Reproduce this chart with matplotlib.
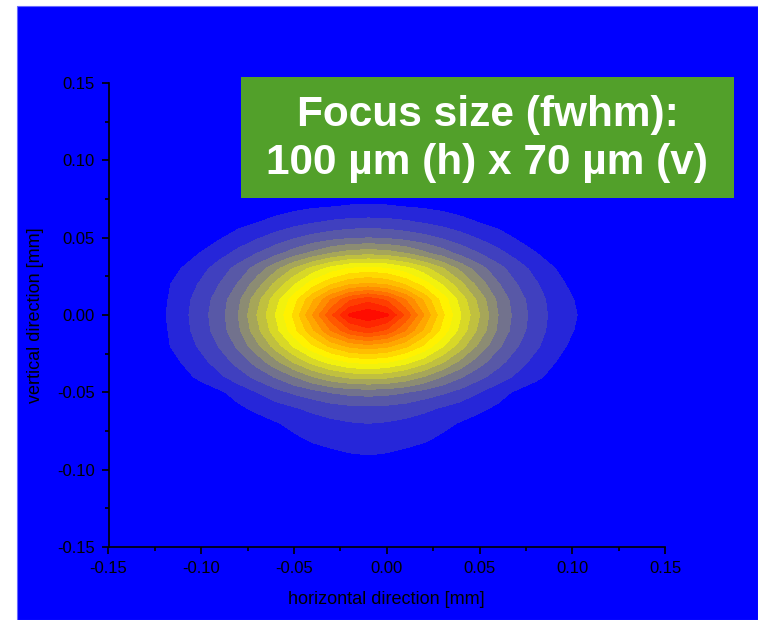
import numpy as np
import matplotlib
matplotlib.use("Agg")
import matplotlib.pyplot as plt
from matplotlib.colors import LinearSegmentedColormap
from matplotlib.patches import Rectangle
from matplotlib.ticker import MultipleLocator, FormatStrFormatter

plt.rcParams["font.family"] = ["Liberation Sans", "DejaVu Sans"]
plt.rcParams["axes.unicode_minus"] = False

# measurement grid [mm]
x_mm = np.round(np.arange(-0.13, 0.125, 0.01), 2)   # 26 columns
y_mm = np.round(np.arange(0.09, -0.115, -0.01), 2)  # 21 rows, top to bottom

# relative intensity [%], rows follow y_mm, columns follow x_mm
intensity = [
    [0] * 26,
    [0, 0, 0, 0, 0, 0, 0.2, 0.6, 1.0, 1.4, 1.7, 1.8, 1.9, 1.8, 1.7, 1.4, 1.0, 0.6, 0.2, 0, 0, 0, 0, 0, 0, 0],
    [0, 0, 0, 0, 0.5, 1.1, 1.9, 2.6, 3.6, 4.4, 4.9, 5.4, 5.5, 5.4, 4.9, 4.4, 3.6, 2.6, 1.9, 1.1, 0.5, 0, 0, 0, 0, 0],
    [0, 0, 0.3, 1.1, 2.3, 3.4, 4.8, 6.5, 8.1, 9.5, 10.7, 11.4, 11.7, 11.4, 10.7, 9.5, 8.1, 6.5, 4.8, 3.4, 2.3, 1.1, 0.3, 0, 0, 0],
    [0, 0.5, 1.5, 2.8, 4.5, 7.0, 9.4, 11.9, 14.4, 16.5, 18.0, 19.3, 19.8, 19.3, 18.0, 16.5, 14.4, 11.9, 9.4, 7.0, 4.5, 2.8, 1.5, 0.5, 0, 0],
    [0.5, 1.6, 3.1, 5.2, 8.1, 11.4, 14.9, 18.3, 22.3, 26.1, 29.9, 32.2, 33.0, 32.2, 29.9, 26.1, 22.3, 18.3, 14.9, 11.4, 8.1, 5.2, 3.1, 1.6, 0.5, 0],
    [1.3, 2.9, 5.2, 8.4, 12.4, 16.7, 22.0, 28.4, 35.5, 41.7, 46.9, 50.4, 51.6, 50.4, 46.9, 41.7, 35.5, 28.4, 22.0, 16.7, 12.4, 8.4, 5.2, 2.9, 1.3, 0.3],
    [1.9, 3.9, 6.9, 10.7, 15.1, 20.4, 27.5, 36.2, 44.4, 52.6, 59.4, 64.1, 65.9, 64.1, 59.4, 52.6, 44.4, 36.2, 27.5, 20.4, 15.1, 10.7, 6.9, 3.9, 1.9, 0.6],
    [2.0, 4.2, 8.1, 12.4, 17.3, 23.8, 33.0, 42.7, 52.8, 64.0, 75.0, 84.0, 88.0, 84.0, 75.0, 64.0, 52.8, 42.7, 33.0, 23.8, 17.3, 12.4, 8.1, 5.2, 2.6, 0.9],
    [2.2, 4.6, 8.5, 13.0, 18.0, 25.0, 35.0, 45.0, 56.0, 70.0, 84.0, 96.0, 99.0, 96.0, 84.0, 70.0, 56.0, 45.0, 35.0, 25.0, 18.0, 13.0, 8.5, 5.8, 2.8, 1.0],
    [2.0, 4.2, 8.1, 12.5, 17.4, 24.0, 33.3, 43.0, 53.2, 64.0, 75.0, 84.0, 88.0, 84.0, 75.0, 64.0, 53.2, 43.0, 33.3, 24.0, 17.4, 12.5, 8.1, 5.2, 2.6, 0.9],
    [2.0, 4.0, 7.1, 11.0, 15.4, 21.0, 28.4, 37.2, 45.7, 54.1, 61.3, 66.2, 68.1, 66.2, 61.3, 54.1, 45.7, 37.2, 28.4, 21.0, 15.4, 11.0, 7.1, 4.0, 2.0, 0.7],
    [1.3, 2.9, 5.3, 8.5, 12.5, 16.8, 22.1, 28.7, 35.9, 42.2, 47.3, 50.9, 52.2, 50.9, 47.3, 42.2, 35.9, 28.7, 22.1, 16.8, 12.5, 8.5, 5.3, 2.9, 1.3, 0.3],
    [0.7, 1.8, 3.6, 6.0, 9.0, 12.6, 16.3, 20.4, 24.7, 29.7, 33.6, 36.1, 37.0, 36.1, 33.6, 29.7, 24.7, 20.4, 16.3, 12.6, 9.0, 6.0, 3.6, 1.8, 0.7, 0],
    [0, 0.5, 1.4, 2.7, 4.2, 6.8, 10.0, 13.2, 15.8, 17.9, 20.2, 21.5, 22.0, 21.5, 20.2, 17.9, 15.8, 13.2, 10.0, 6.8, 4.2, 2.7, 1.4, 0.5, 0, 0],
    [0, 0, 0.3, 1.1, 2.4, 4.2, 6.0, 7.8, 9.6, 11.3, 12.8, 13.7, 14.0, 13.7, 12.8, 11.3, 9.6, 7.8, 6.0, 4.2, 2.4, 1.1, 0.3, 0, 0, 0],
    [0, 0, 0, 0.2, 0.9, 1.9, 3.1, 4.6, 6.2, 7.5, 8.7, 9.6, 10.0, 9.6, 8.7, 7.5, 6.2, 4.6, 3.1, 1.9, 0.9, 0.2, 0, 0, 0, 0],
    [0, 0, 0, 0, 0.4, 1.0, 1.9, 3.0, 4.2, 5.6, 6.4, 7.0, 7.2, 7.0, 6.4, 5.6, 4.2, 3.0, 1.9, 1.0, 0.4, 0, 0, 0, 0, 0],
    [0, 0, 0, 0, 0, 0.3, 0.8, 1.5, 2.3, 3.2, 4.1, 4.8, 5.1, 4.8, 4.1, 3.2, 2.3, 1.5, 0.8, 0.3, 0, 0, 0, 0, 0, 0],
    [0, 0, 0, 0, 0, 0, 0, 0.2, 0.5, 0.9, 1.4, 1.8, 2.0, 1.8, 1.4, 0.9, 0.5, 0.2, 0, 0, 0, 0, 0, 0, 0, 0],
    [0] * 26,
]

levels = np.arange(5, 101, 5)
annotation = "Focus size (fwhm):\n100 µm (h) x 70 µm (v)"

BLUE = "#0000ff"
GREEN = "#52a02a"

fig = plt.figure(figsize=(7.58, 6.2), dpi=100, facecolor="white")

# blue slide background with small white margin on left and top
fig.patches.append(Rectangle((17 / 758, 0), 1 - 17 / 758, 1 - 6 / 620,
                             transform=fig.transFigure, facecolor=BLUE,
                             edgecolor="#6a6aff", linewidth=0.8, zorder=-10))

ax = fig.add_axes([108.5 / 758, 73 / 620, 556.5 / 758, 464 / 620])
ax.set_facecolor(BLUE)

cmap = LinearSegmentedColormap.from_list("focus", [BLUE, "#ffff00", "#ff0000"])
X, Y = np.meshgrid(x_mm, y_mm)
ax.contourf(X, Y, np.array(intensity), levels=levels, cmap=cmap, vmin=0, vmax=100)

ax.set_xlim(-0.15, 0.15)
ax.set_ylim(-0.15, 0.15)
ax.xaxis.set_major_locator(MultipleLocator(0.05))
ax.yaxis.set_major_locator(MultipleLocator(0.05))
ax.xaxis.set_minor_locator(MultipleLocator(0.025))
ax.yaxis.set_minor_locator(MultipleLocator(0.025))
ax.xaxis.set_major_formatter(FormatStrFormatter("%.2f"))
ax.yaxis.set_major_formatter(FormatStrFormatter("%.2f"))

for side in ["top", "right"]:
    ax.spines[side].set_visible(False)
for side in ["left", "bottom"]:
    ax.spines[side].set_linewidth(1.2)
    ax.spines[side].set_color("black")

ax.tick_params(which="major", direction="out", length=5, width=1.2, labelsize=12,
               colors="black", pad=5)
ax.tick_params(which="minor", direction="out", length=3, width=1.2)

ax.set_xlabel("horizontal direction [mm]", fontsize=13, labelpad=11)
ax.set_ylabel("vertical direction [mm]", fontsize=13, labelpad=9)

# green annotation box
fig.patches.append(Rectangle((241 / 758, 1 - 198 / 620), 493 / 758, 121 / 620,
                             transform=fig.transFigure, facecolor=GREEN,
                             edgecolor="none", zorder=3))
fig.text(487.5 / 758, 1 - 139 / 620, annotation, ha="center", va="center",
         color="white", fontsize=30.5, fontweight="bold", linespacing=1.25, zorder=4)

fig.savefig("out.png", dpi=100, facecolor=fig.get_facecolor())
